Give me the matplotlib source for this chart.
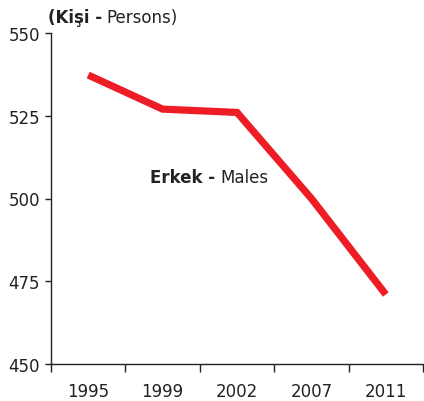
import matplotlib.pyplot as plt

# === 데이터 ===
years = ['1995', '1999', '2002', '2007', '2011']
males = [537.3, 527.0, 526.0, 500.0, 471.0]
y_ticks = [450, 475, 500, 525, 550]

plt.rcParams['font.family'] = ['DejaVu Sans']

fig = plt.figure(figsize=(4.24, 4.02), dpi=100)
ax = fig.add_axes([51 / 424, 37 / 402, 372 / 424, 331 / 402])

x = list(range(len(years)))
ax.plot(x, males, color='#ee1c25', linewidth=5.2, solid_capstyle='butt', solid_joinstyle='miter')

ax.set_xlim(-0.5, len(years) - 0.5)
ax.set_ylim(450, 550)
ax.set_yticks(y_ticks)
ax.set_yticklabels([str(v) for v in y_ticks], fontsize=12, color='#222222')

# 라벨은 가운데, 눈금은 구간 경계에
ax.set_xticks(x)
ax.set_xticklabels(years, fontsize=12, color='#222222')
ax.set_xticks([i - 0.5 for i in range(len(years) + 1)], minor=True)
ax.tick_params(axis='x', which='major', length=0, pad=13)
ax.tick_params(axis='x', which='minor', length=6, width=1, direction='out', color='#222222')
ax.tick_params(axis='y', length=4, width=1, pad=4, color='#222222')

for s in ['top', 'right']:
    ax.spines[s].set_visible(False)
for s in ['left', 'bottom']:
    ax.spines[s].set_linewidth(1.0)
    ax.spines[s].set_color('#222222')

# === 텍스트 ===
fig.text(102 / 424, 1 - 18 / 402, '(Kişi -', fontsize=12, fontweight='bold',
         ha='right', va='center', color='#222222')
fig.text(106 / 424, 1 - 18 / 402, 'Persons)', fontsize=12,
         ha='left', va='center', color='#222222')

fig.text(215 / 424, 1 - 178 / 402, 'Erkek -', fontsize=12, fontweight='bold',
         ha='right', va='center', color='#222222')
fig.text(220 / 424, 1 - 178 / 402, 'Males', fontsize=12,
         ha='left', va='center', color='#222222')

fig.savefig('out.png', dpi=100)
